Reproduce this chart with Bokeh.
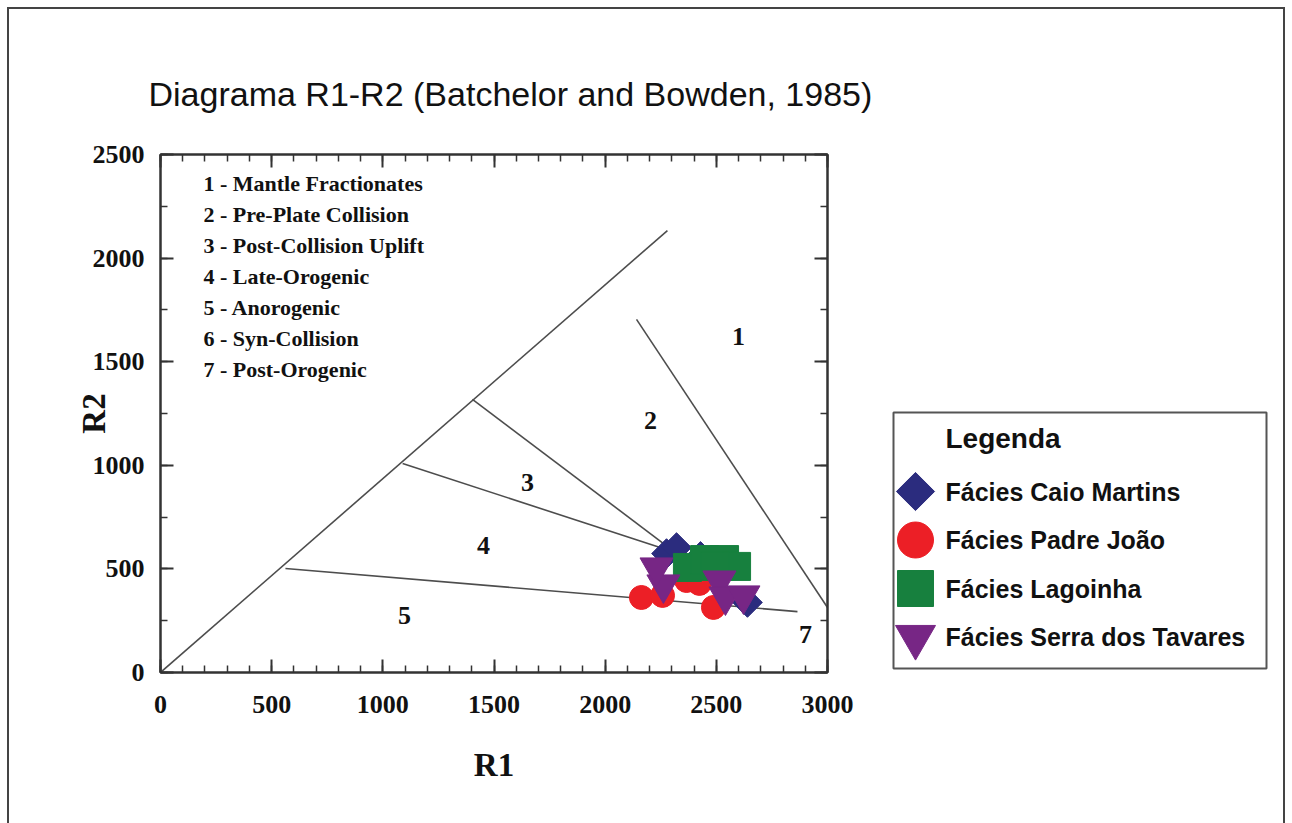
import numpy as np
from bokeh.plotting import figure
from bokeh.models import Range1d, LinearAxis, SingleIntervalTicker, CustomJSTickFormatter
from bokeh.layouts import row
from bokeh.core.properties import value
from bokeh.embed import file_html
from bokeh.resources import INLINE

# ---------------- data ----------------
title_text = "Diagrama R1-R2 (Batchelor and Bowden, 1985)"
x_label = "R1"
y_label = "R2"

# field boundaries (R1, R2 end points)
bound_x0 = [0, 2141, 1403, 1089, 562]
bound_y0 = [0, 1704, 1318, 1009, 502]
bound_x1 = [2280, 3000, 2316, 2316, 2865]
bound_y1 = [2133, 314, 579, 579, 294]

# field numbers
region_labels = ["1", "2", "3", "4", "5", "7"]
region_x = [2600, 2204, 1651, 1453, 1097, 2901]
region_y = [1622, 1216, 917, 613, 275, 183]

zone_names = [
    "1 - Mantle Fractionates",
    "2 - Pre-Plate Collision",
    "3 - Post-Collision Uplift",
    "4 - Late-Orogenic",
    "5 - Anorogenic",
    "6 - Syn-Collision",
    "7 - Post-Orogenic",
]

series_names = ["Fácies Caio Martins", "Fácies Padre João",
                "Fácies Lagoinha", "Fácies Serra dos Tavares"]
series_colors = ["#2B2C7E", "#EC1F26", "#17803E", "#772685"]

caio_r1 = [2276, 2321, 2429, 2640]
caio_r2 = [574, 603, 560, 338]
padre_r1 = [2163, 2258, 2366, 2424, 2487]
padre_r2 = [362, 372, 444, 430, 314]
lago_r1 = [2370, 2447, 2537, 2591, 2492]
lago_r2 = [507, 545, 545, 512, 512]
serra_r1 = [2262, 2231, 2514, 2541, 2622]
serra_r2 = [425, 507, 444, 367, 372]

# ---------------- main plot ----------------
SERIF = value("Liberation Serif")
SANS = value("Liberation Sans")

BORDER_TOP = 154
BORDER_BOTTOM = 151

p = figure(width=890, height=823,
           x_range=Range1d(0, 3000), y_range=Range1d(0, 2500),
           output_backend="svg", toolbar_location=None,
           min_border_left=160, min_border_right=63,
           min_border_top=BORDER_TOP, min_border_bottom=BORDER_BOTTOM,
           title=title_text)
p.background_fill_color = "white"
p.border_fill_color = "white"
p.outline_line_color = "#333333"
p.outline_line_width = 2
p.grid.visible = False

p.title.text_font = "Liberation Sans"
p.title.text_font_size = "34px"
p.title.text_font_style = "normal"
p.title.text_color = "#111111"
p.title.align = "left"
p.title.offset = -12
p.title.standoff = 84

xt = SingleIntervalTicker(interval=500, num_minor_ticks=5)
yt = SingleIntervalTicker(interval=500, num_minor_ticks=2)

blank = CustomJSTickFormatter(code="return ''")
top_axis = LinearAxis(ticker=xt, formatter=blank)
right_axis = LinearAxis(ticker=yt, formatter=blank)
p.add_layout(top_axis, "above")
p.add_layout(right_axis, "right")

def style_axis(ax):
    ax.axis_line_color = "#333333"
    ax.axis_line_width = 2
    ax.major_tick_line_color = "#333333"
    ax.minor_tick_line_color = "#333333"
    ax.major_tick_line_width = 2
    ax.minor_tick_line_width = 1.5
    ax.major_tick_in = 13
    ax.major_tick_out = 0
    ax.minor_tick_in = 7
    ax.minor_tick_out = 0
    ax.major_label_text_font = "Liberation Serif"
    ax.major_label_text_font_style = "bold"
    ax.major_label_text_font_size = "26px"
    ax.major_label_text_color = "#111111"
    ax.axis_label_text_font = "Liberation Serif"
    ax.axis_label_text_font_style = "bold"
    ax.axis_label_text_font_size = "33px"
    ax.axis_label_text_color = "#111111"

for ax in p.xaxis:
    ax.ticker = xt
for ax in p.yaxis:
    ax.ticker = yt
for ax in list(p.xaxis) + list(p.yaxis):
    style_axis(ax)

for ax in (top_axis, right_axis):
    ax.major_label_standoff = 0

p.below[0].axis_label = x_label
p.below[0].major_label_standoff = 23
p.below[0].axis_label_standoff = 31
p.left[0].axis_label = y_label
p.left[0].major_label_standoff = 16
p.left[0].axis_label_standoff = -22

# field boundaries
p.segment(x0=bound_x0, y0=bound_y0, x1=bound_x1, y1=bound_y1,
          line_color="#4d4d4d", line_width=1.6)

# field numbers
p.text(x=region_x, y=region_y, text=region_labels,
       text_font=SERIF, text_font_style="bold", text_font_size="26px",
       text_align="center", text_baseline="middle", text_color="#111111")

# field names list
zone_x = [193] * len(zone_names)
zone_y = [2360 - 150 * i for i in range(len(zone_names))]
p.text(x=zone_x, y=zone_y, text=zone_names,
       text_font=SERIF, text_font_style="bold", text_font_size="22px",
       text_align="left", text_baseline="middle", text_color="#111111")

# samples
p.scatter(padre_r1, padre_r2, marker="circle", size=24,
          fill_color=series_colors[1], line_color=series_colors[1])
p.scatter(caio_r1, caio_r2, marker="square", angle=np.pi / 4, size=21,
          fill_color=series_colors[0], line_color=series_colors[0])
p.scatter(lago_r1, lago_r2, marker="square", size=28,
          fill_color=series_colors[2], line_color=series_colors[2])
p.scatter(serra_r1, serra_r2, marker="inverted_triangle", size=33,
          fill_color=series_colors[3], line_color=series_colors[3])

# ---------------- legend panel ----------------
# pixel-like coordinates inside the panel (frame spans same rows as main plot)
LEG_W = 402
LEG_H = 823 - BORDER_TOP - BORDER_BOTTOM
leg = figure(width=LEG_W, height=823,
             x_range=Range1d(0, LEG_W), y_range=Range1d(LEG_H, 0),
             output_backend="svg", toolbar_location=None,
             min_border_left=0, min_border_right=0,
             min_border_top=BORDER_TOP, min_border_bottom=BORDER_BOTTOM,
             x_axis_location=None, y_axis_location=None)
leg.grid.visible = False
leg.outline_line_color = None
leg.background_fill_color = "white"
leg.border_fill_color = "white"

# legend box
leg.quad(left=[3], right=[376], top=[258], bottom=[514],
         fill_color="white", line_color="#555555", line_width=2)

leg.text(x=[55], y=[284], text=["Legenda"],
         text_font=SANS, text_font_style="bold", text_font_size="28px",
         text_align="left", text_baseline="middle", text_color="#111111")

leg_markers = ["square", "circle", "square", "inverted_triangle"]
leg_sizes = [27, 36, 36, 40]
leg_angles = [np.pi / 4, 0, 0, 0]
leg_y = [337 + 48.5 * i for i in range(len(series_names))]
for i in range(len(series_names)):
    leg.scatter([25], [leg_y[i]], marker=leg_markers[i], size=leg_sizes[i],
                angle=leg_angles[i], fill_color=series_colors[i],
                line_color=series_colors[i])
leg.text(x=[55] * len(series_names), y=leg_y, text=series_names,
         text_font=SANS, text_font_style="bold", text_font_size="25px",
         text_align="left", text_baseline="middle", text_color="#111111")

border_css = """
:host { position: relative; }
:host::after {
  content: "";
  position: absolute;
  left: 7px; top: 7px;
  width: 1278px; height: 816px;
  box-sizing: border-box;
  border: 2px solid #444444;
  border-bottom: none;
  pointer-events: none;
}
"""
layout = row(p, leg, stylesheets=[border_css])

open("out.html", "w").write(file_html(layout, INLINE))
